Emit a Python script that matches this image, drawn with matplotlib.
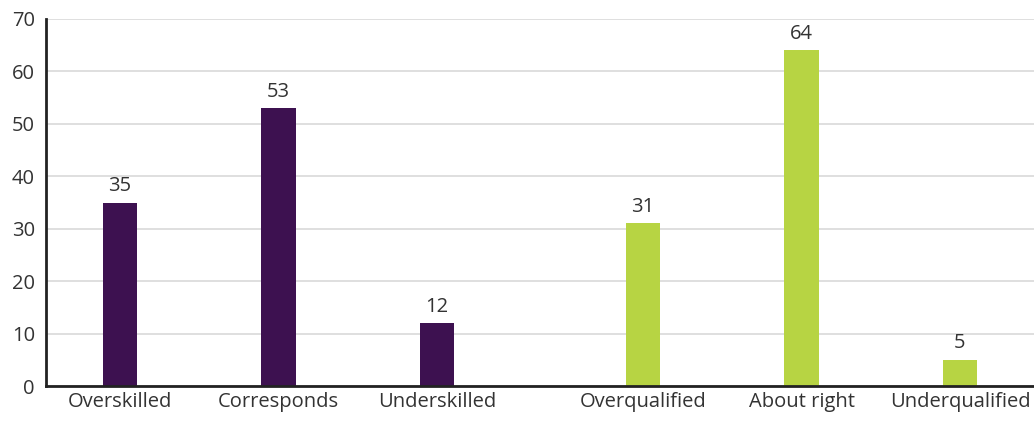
import matplotlib
matplotlib.use("Agg")
import matplotlib.pyplot as plt
import numpy as np

# data
categories = ["Overskilled", "Corresponds", "Underskilled",
              "Overqualified", "About right", "Underqualified"]
values = [35, 53, 12, 31, 64, 5]
groups = [0, 0, 0, 1, 1, 1]

PURPLE = "#3d1150"
GREEN = "#b7d443"
TEXT = "#333333"

plt.rcParams["font.family"] = ["Open Sans", "DejaVu Sans"]

# second group sits a bit further right
x = np.arange(len(categories)) + 0.3 * np.array(groups)
colors = [PURPLE if g == 0 else GREEN for g in groups]

fig = plt.figure(figsize=(10.34, 4.22), dpi=100)
ax = fig.add_axes([46 / 1034, 1 - 386 / 422, 1 - 46 / 1034, (386 - 19) / 422])

ax.bar(x, values, width=0.215, color=colors, zorder=3)
for xi, v in zip(x, values):
    ax.text(xi, v + 1.2, str(v), ha="center", va="bottom",
            fontsize=14.5, color=TEXT)

ax.set_ylim(0, 70)
ax.set_xlim(-0.467, x[-1] + 0.467)
ax.set_yticks(range(0, 71, 10))
ax.set_xticks(x)
ax.set_xticklabels(categories)
ax.tick_params(length=0, labelsize=14.5, labelcolor=TEXT)
ax.tick_params(axis="x", pad=4)
ax.tick_params(axis="y", pad=8)

ax.grid(axis="y", color="#dcdcdc", linewidth=1.3, zorder=0)
for side in ("top", "right"):
    ax.spines[side].set_visible(False)
for side in ("left", "bottom"):
    ax.spines[side].set_color("#222222")
    ax.spines[side].set_linewidth(2)
    ax.spines[side].set_zorder(4)

fig.savefig("out.png", dpi=100)
